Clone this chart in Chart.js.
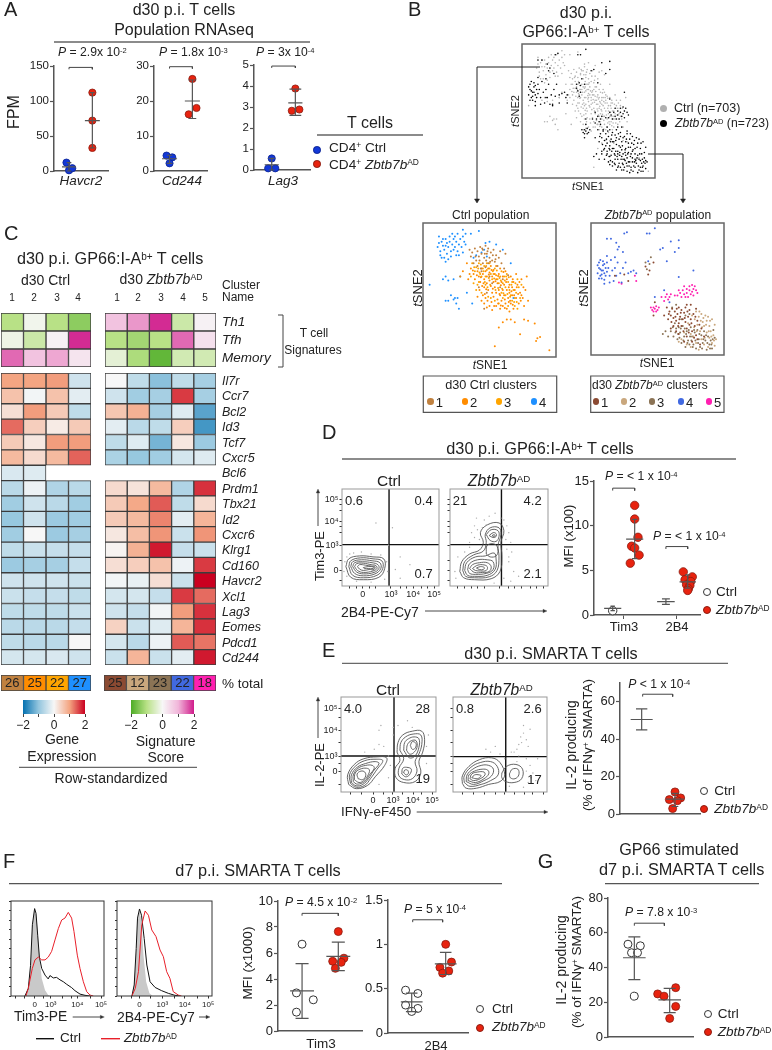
<!DOCTYPE html>
<html>
<head>
<meta charset="utf-8">
<title>Zbtb7b panels</title>
<script src="https://cdn.jsdelivr.net/npm/chart.js@4/dist/chart.umd.min.js"></script>
<style>
html,body{margin:0;background:#fff}
#page{position:relative;width:772px;height:1050px;overflow:hidden;font-family:"Liberation Sans",Arial,sans-serif;color:#222}
canvas{position:absolute}
.t{position:absolute;white-space:nowrap;line-height:1}
.t sup{font-size:.62em;line-height:0;vertical-align:baseline;position:relative;top:-.42em}
.d{position:absolute;border-radius:50%;box-sizing:border-box}
svg{position:absolute;left:0;top:0}
</style>
</head>
<body>
<div id="page"></div>
<script>
// panel A
const havcr2Ctrl = [12, 1, 4], havcr2CtrlJit = [-.11, 0, .14], havcr2Ko = [112, 72, 33];
const cd244Ctrl = [4.4, 3.9, 2.2], cd244CtrlJit = [-.13, .12, 0], cd244Ko = [26.3, 18, 16.2], cd244KoJit = [0, .18, -.16];
const lag3Ctrl = [.55, .08, .08], lag3CtrlJit = [0, -.15, .15], lag3Ko = [3.88, 2.82, 2.88], lag3KoJit = [0, -.15, .17];

// panel B tSNE cells, flat x,y lists
const ctrlC1 = [37,78,39,81,41,79,43,82,45,80,47,83,49,81,51,78,53,80,55,76,57,74,42,75,44,77,46,74,48,77,50,74,52,72,54,71,40,72,38,70,41,68,45,70,47,67,49,70,56,68,59,70,61,66,44,64,50,60,52,55,58,52,48,48,46,36,42,52,60,58,64,61,36,75,35,80,58,79,62,77,39.5,75,42.5,72,44.5,81,46.5,77,48.5,79,50.5,71,52.5,76,54.5,73,43.5,66,47.5,72];
const ctrlC2 = [36,66,38,62,39,58,41,64,42,60,43,56,44,66,45,62,46,58,46,52,47,64,48,60,48,55,49,66,49,50,50,63,50,57,51,68,51,53,52,60,52,48,53,65,53,56,53,45,54,62,54,52,55,58,55,68,55,48,56,55,56,43,57,62,57,50,58,66,58,46,59,56,59,42,60,60,60,50,61,46,61,54,62,64,62,40,63,58,63,50,64,44,65,54,65,48,66,60,66,40,67,52,67,46,68,56,68,36,69,50,70,44,70,62,71,54,72,40,73,48,74,58,75,44,76,38,77,50,78,60,35,62,33,70,34,58,30,64,28,60,41,45,44,42,46,40,47,44,50,38,52,35,48,37,45,46,55,38,58,36,60,38,63,36,65,34,74,46,79,42,57,22,60,26,63,28,66,28,69,26,76,28,79,27,84,25,73,17,86,14,88,15,85,12,54,8,95,5,37.5,64.5,40.5,61,43.5,59.5,45.5,55,47.5,50.5,49.5,61.5,51.5,65,52.5,51,54.5,56.5,56.5,60.5,57.5,47,58.5,53.5,60.5,63.5,61.5,43,62.5,56,64.5,52,65.5,42,66.5,49,67.5,58,68.5,46,70.5,52,71.5,47,72.5,56,73.5,42,75.5,52,42.5,50,44.5,53,46.5,47,48.5,42,51.5,41,53.5,38,56.5,40,58.5,38.5,61.5,36.5,64.5,41,67.5,39];
const ctrlC3 = [37,70,40,67,42,70,43,62,45,66,47,60,48,65,50,70,50,66,51,62,52,58,53,62,54,66,55,61,56,58,57,55,58,60,59,64,59,48,60,55,61,60,62,52,63,62,64,56,65,50,66,46,67,56,68,50,69,44,70,48,71,58,72,52,73,44,74,54,38,55,40,50,42,56,44,48,47,54,49,45,51,44,54,42,57,40,60,44,62,46,64,38,67,42,69,38,71,36,44,60,46,68,48,70,39,64,41,54,36,60,41.5,66,43.5,69,45.5,64,47.5,68,49.5,59,50.5,54,52.5,64,53.5,58.5,54.5,50,55.5,64.5,56.5,51.5,57.5,59,58.5,57,59.5,51,60.5,47.5,61.5,57,62.5,60,63.5,47,64.5,59.5,65.5,45,66.5,54,68.5,41,69.5,55,70.5,41,38.5,67,42.5,63,46.5,56,48.5,52];
const ctrlC4 = [11,82,12,85,13,79,14,86,15,83,13,76,16,80,17,88,18,85,16,74,18,77,19,82,20,90,20,86,21,79,22,84,23,88,19,73,21,75,24,82,24,90,25,86,26,92,26,79,27,84,28,88,29,82,30,90,31,86,15,88,17,83,22,92,23,80,25,76,14,74,17,71,27,76,30,78,32,84,32,92,36,92,42,94,30,95,12,90,19,57,15,58,17,60,23,58,28,60,5,54,21,46,24,44,26,44,23,43,19,42,17,42,25,40,37,40,33,48,27,36,38,74,40,76,44,78,46,80,47,85,50,86,55,84,60,80,66,70,48,75,68,44];
const koC1 = [57,36,59,33,60,30,61,35,62,28,63,33,64,26,65,31,66,36,66,24,67,29,68,34,68,22,69,27,70,32,71,25,71,36,72,20,73,29,74,23,74,34,75,27,76,18,77,31,78,22,79,15,80,26,80,12,62,22,64,18,58,27,55,30,60,20,72,14,76,10,83,20,85,14,82,8,66,16,70,10,48,40,47,30,72,38,75,38,79,35,18,60,25,61,28,56,43,61,44,64,47,70,41,67,58.5,31,60.5,25,63.5,29,65.5,22,67.5,32,69.5,18,70.5,28,72.5,33,73.5,17,75.5,24,77.5,13,78.5,29,81.5,23,64.5,35,66.5,27];
const koC2 = [76,30,78,27,79,33,80,23,81,29,82,18,83,31,84,25,85,22,86,30,87,17,87,26,88,29,89,13,89,22,90,18,91,27,91,9,92,15,93,23,94,12,77,14,79,9,83,12,85,8,75,16,73,24,70,17,68,12,72,8,81,4,88,6,93,7,66,10,75,6,77.5,21,79.5,18,81.5,33,83.5,21,84.5,28,86.5,23,88.5,18,89.5,26,90.5,14,92.5,11,82.5,26,85.5,13];
const koC3 = [60,18,62,14,64,20,65,12,67,17,68,9,69,22,70,14,71,6,72,18,73,11,74,8,75,21,76,14,77,8,78,17,79,5,80,19,81,12,82,6,83,15,84,9,85,18,86,11,87,4,88,14,89,8,90,11,91,5,92,19,93,13,63,24,66,21,58,14,56,18,54,16,68,27,71,30,74,31,61,36,64,38,41,70,42,65,45,74,44,69,61.5,21,63.5,17,65.5,16,66.5,13,67.5,20,69.5,11,70.5,20,71.5,16,72.5,9,73.5,19,74.5,14,75.5,11,76.5,6,77.5,19,78.5,11,80.5,9,81.5,16,83.5,5,84.5,12,86.5,15,87.5,9,89.5,5,90.5,8,91.5,12];
const koC4 = [5,62,6,66,7,60,6,70,8,64,9,68,8,58,10,62,9,71,11,66,10,57,12,63,7,65,5,68,8,61,11,60,12,70,13,66,6,58,9,64,10,69,7,72,14,60,16,64,18,66,19,60,22,62,24,66,26,70,15,72,12,75,20,70,18,74,14,55,17,56,10,54,23,55,28,62,30,63,32,64,34,62,20,80,24,78,19,85,21,82,12,88,15,88,25,92,27,93,42,92,48,96,44,92,60,86,66,87,66,81,54,81,52,80,63,78,57,71,43,71,77,64,66,59,55,49,48,44,59,40];
const koC5 = [65,45,67,47,68,44,69,49,70,46,71,44,72,50,72,47,73,44,74,52,74,49,75,46,76,48,76,53,77,50,77,45,78,52,79,49,80,47,66,49,70,52,63,45,60,46,58,42,56,44,55,41,53,44,57,46,59,44,47,36,46,34,48,35,49,37,50,34,45,36,47,33,51,36,49,33,21,55,34,56,23,54,33,60];
const ctrlClusterColors = ['#c0813f', '#ff8c00', '#ffa500', '#1e90ff'];
const koClusterColors = ['#8b4a32', '#c9a77d', '#8b7355', '#4169e1', '#ff1fb0'];

// panel C heatmaps
const sigNames = ['Th1', 'Tfh', 'Memory'];
const sigCtrl = [[-1, -.1, -1, -1.4], [-.15, -.7, .1, 1.9], [1.5, .8, 1.1, .3]];
const sigKo = [[.8, 1.2, 1.9, -.7, .1], [-1, -1.2, -1, 1.5, .35], [-.3, -1.1, -1.8, -.6, -.6]];
const geneNames = ['Il7r', 'Ccr7', 'Bcl2', 'Id3', 'Tcf7', 'Cxcr5', 'Bcl6', 'Prdm1', 'Tbx21', 'Id2', 'Cxcr6', 'Klrg1', 'Cd160', 'Havcr2', 'Xcl1', 'Lag3', 'Eomes', 'Pdcd1', 'Cd244'];
const geneCtrl = [[1, 1, 1.05, -.4], [.65, -.05, .65, -.2], [.3, 1.05, .55, -.55], [1.35, .5, .15, .55], [.55, .2, 1.05, 1.05], [.75, .35, .75, 1.4], [-.3, -.25, null, null], [-.6, -.1, -.7, -.6], [-.85, -.4, -.6, -.85], [-.95, -.4, -.9, -.85], [-.85, 0, -.9, -.8], [-.55, -.45, -.5, -.5], [-.9, -.8, -.8, -.5], [-.4, -.4, -.4, -.45], [-.45, -.5, -.5, -.55], [-.55, -.55, -.55, -.45], [-.6, -.6, -.6, -.5], [-.55, -.6, -.6, 0], [-.35, -.35, -.3, -.4]];
const geneKo = [[0, -.55, -1.05, -.55, -.8], [-.4, -.85, -.8, 1.65, -.8], [.6, .85, -.8, -.25, -1.4], [-.2, -.6, -.55, .5, -1.55], [-.55, -.25, -1.2, .2, -.9], [-.75, -.95, -.85, -.35, -.25], [null, null, null, null, null], [.35, .25, .75, -.7, 1.7], [.55, .95, 1.45, -.55, .35], [.55, .75, 1.2, -.2, .8], [.2, .7, 1.1, -.45, 1.1], [.05, .85, 1.85, -.5, -.45], [.3, .5, .65, -.1, 1.65], [-.05, -.15, .3, -.45, 2], [-.35, -.35, -.5, 1.65, 1.35], [-.4, -.5, -.05, 1.05, 1.7], [.45, -.45, -.25, .8, 1.7], [-.35, -.6, -.1, 1.45, 1.3], [-.45, .8, -.45, -.2, 1.85]];
const pctCtrl = [26, 25, 22, 27];
const pctKo = [25, 12, 23, 22, 18];
const exprStops = ['#0571b0', '#92c5de', '#f7f7f7', '#f4a582', '#ca0020'];
const sigStops = ['#4dac26', '#b8e186', '#f7f7f7', '#f1b6da', '#d01c8b'];

// panel D
const tim3CtrlD = [.48], tim3KoD = [12.27, 10.74, 8.7, 7.7, 7.5, 6.7, 5.8], tim3KoDJit = [0, 0, .15, -.14, 0, .2, -.2];
const b4KoD = [4.83, 3.94, 4.27, 3.75, 3.38, 3.3, 2.94, 2.75], b4KoDJit = [-.2, -.12, .21, .14, -.05, .1, .03, 0];
const flowDCtrlLoops = [
  [4,20,7,28,18,31,32,30,43,28,44,18,38,9,22,6.5,9,9,4,20],
  [7,20,9,26,19,29,32,28,41,26,42,18,36,11,22,8.5,11,11,7,20],
  [9,20,11,25,20,27,31,26,39,24,40,18,34,12.5,22,10.5,13,13,9,20],
  [11,20,13,24,21,25,31,24,37,22,38,18,33,14,22,12.5,15,14.5,11,20],
  [13,20,15,23,22,23.5,30,22,35,21,36,18,32,15.5,22,14,16,16,13,20],
  [16,20,18,22,24,21.5,30,20.5,34,20,33,17,28,17,22,16,18,17.5,16,20],
  [22,19,27,20,33,19.5,32,18,27,18,23,18,22,19]
];
const flowDKoLoops = [
  [10,15,12,25,20,33,30,37,34,45,31,55,38,63,50,65,55,57,52,45,53,30,51,15,42,7.5,25,6.5,14,8.5,10,15],
  [13,16,15,25,24,32,34,36,37,45,36,53,41,60,50,60,52,53,49,42,50,30,48,16,40,9.5,25,8.5,16,10,13,16],
  [37,53,42,58,49,57,50,51,47,46,41,47,37,53],
  [40,52,44,55,47,54,47,51,44,50,40,52],
  [43,52,45,53,46,52,45,51,43,52],
  [37,33,38,42,46,43,49,37,47,31,41,30,37,33],
  [15,16,17,24,26,30,36,31,45,34,47,28,46,17,38,11,25,10,18,11,15,16],
  [18,17,20,23,28,27,38,27,44,25,44,17,37,13,26,12,20,13,18,17],
  [20,18,23,22,30,24,38,24,42,20,40,15,33,14,25,14,20,18],
  [23,18,27,21,33,22,38,20,37,16,31,15.5,26,16,23,18],
  [27,18.5,31,20,35,19,34,17,30,17,27,18.5]
];
const flowDCtrlSpeckle = [3,25,5,30,8,33,12,34,20,35,30,33,40,32,46,25,47,15,44,7,30,4,15,5,5,10,2,15,60,30,52,60,48,42,70,22,60,8,55,17,35,65];
const flowDKoSpeckle = [20,45,25,62,27,70,22,55,35,68,40,72,46,75,55,68,58,62,60,55,62,45,58,38,60,25,65,15,70,10,62,5,20,40,15,35,8,30,30,48,25,50,28,58,33,60,37,63,52,70,57,48,5,15,6,8,45,3,55,8,60,30,63,35];

// panel E
const il2Ko = [11.8, 7.7, 8.6, 7.1, 2.9], il2KoJit = [0, -.17, .17, .07, -.07];
const flowECtrlLoops = [
  [8,8,7,18,14,29,24,35,38,37,48,36,46,28,36,16,28,7,16,3.5,8,8],
  [10,9,9,18,15,27,25,33,37,34.5,44,33,38,24,31,14,25,7,16,5,10,9],
  [11,10,11,18,17,26,26,30,36,32,40,30,34,22,29,14,23,8,16,6.5,11,10],
  [13,11,13,18,18,25,26,28,33,28,35,25,30,18,26,12,21,9,16,8.5,13,11],
  [14,13,15,20,20,24,27,25,30,23,28,17,24,12,19,10,14,13],
  [18,14,17,19,21,22,25,21,26,17,23,13,18,14],
  [59,42,60,52,65,60,75,64,85,64,88,55,86,42,82,32,84,20,78,11,66,10,58,15,57,25,62,33,59,42],
  [62,44,63,52,68,58,76,61,84,60,85,50,82,40,78,32,80,22,75,14,67,13,61,17,61,25,66,35,62,44],
  [66,44,67,52,71,56,77,58,82,56,82,47,78,38,72,36,66,44],
  [69,44,70,50,74,54,79,54,80,47,76,41,72,40,69,44],
  [73,49,75,53,79,51,78,46,75,45,73,49],
  [64,19,65,25,69,26,74,24,72,18,68,16,64,19],
  [66,20,67,23,70,23,71,20,69,18,66,20]
];
const flowEKoLoops = [
  [10,9,10,17,17,27,28,34,41,36,50,31,55,18,50,11,38,8,25,4,14,4,10,9],
  [12,10,12,17,19,26,29,31,40,32,47,27,48,18,40,12,30,8,18,6,12,10],
  [14,11,15,18,21,24,30,28,38,28,43,24,41,17,33,12,22,8,14,11],
  [16,12,17,18,23,22,31,24,37,23,38,19,33,14,24,10,16,12],
  [18,14,20,19,26,21,33,21,34,18,29,14,22,12,18,14],
  [20,15,23,18,28,18,30,17,26,14,20,15],
  [52,20,57,27,67,29,74,24,73,14,65,10,56,11,52,15,52,20],
  [60,19,63,24,69,24,70,18,66,14,61,15,60,19]
];
const flowECtrlSpeckle = [25,42,35,45,40,50,45,48,55,60,50,38,52,28,50,15,40,8,90,30,90,48,92,60,55,68,60,70,70,75,75,68,40,65,42,70];
const flowEKoSpeckle = [70,50,75,62,78,55,80,48,72,58,82,66,75,70,65,42,70,38,78,35,82,28,85,20,88,12,80,10,75,5,60,6,90,35,40,42,45,48,35,45,50,40,55,35,62,42,68,32,78,22,83,15,73,52,68,45];

// panel F histograms, x then count
const histTim3Gray = [15,0,18.6,8,21,32,23,75,25.4,92,27.6,82,30.5,43,33,18.6,36.6,6,40,1,42,0];
const histTim3Black = [15,0,18.6,8,21,32,23,75,25.4,92,26.9,87,28.7,64,30.5,41,33,29,36.6,22,40,18,41.9,21.5,45.5,19,49,19.6,52.7,17,56.3,15,59.9,12.3,65.2,8.8,68.8,5.6,74.2,2,79.6,.7,85,0];
const histTim3Red = [16,0,18.6,8,20.4,17,22.9,29,25.8,38,29.4,41,33,38,36.6,38,40.1,41,43.7,47,47.3,59,50.9,71,54.5,80,58,82,61.6,88,65.2,82,67.7,68,71.3,43,74.2,29,77.8,15,81.4,4.6,84.9,1,88.5,0];
const hist2b4Gray = [15.7,0,18.1,11.6,20.2,46.7,21.6,78,23.7,90.5,25.8,78,27.9,43,30.7,15,34.1,2.8,37.6,0];
const hist2b4Black = [15.7,0,18.1,11.6,20.2,50,21.6,82,23.7,91.6,25.8,85,28.6,60.7,31.4,32.6,34.8,15,40.1,9,47,5.6,54,2.8,61,.7,66.2,0];
const hist2b4Red = [15.7,0,19.2,8,22.6,25.6,26.1,75,29.6,89.5,33.1,85,36.6,69.5,41.1,62.5,45.3,48.4,48.8,41.4,52.3,25.6,55.7,18.6,59.2,4.6,64.5,1,67.9,0];
const mfiTim3Ctrl = [6.68, 2.93, 2.4, 1.45], mfiTim3CtrlJit = [0, -.155, .31, -.155];
const mfiTim3Ko = [7.65, 5.6, 5.28, 5.36, 4.82], mfiTim3KoJit = [0, .155, .08, -.155, -.08];
const mfi2b4Ctrl = [.483, .446, .315, .277, .243], mfi2b4CtrlJit = [-.18, .18, -.18, .18, 0];
const mfi2b4Ko = [1, .8, .74, .7, .675], mfi2b4KoJit = [0, .17, -.17, .09, -.09];

// panel G
const gpCtrl = [53.4, 52.5, 48.5, 48.5, 23.5], gpCtrlJit = [-.18, .17, -.08, .09, 0];
const gpKo = [28.4, 24.8, 23.5, 17.6, 10.7], gpKoJit = [.17, -.34, -.16, .17, 0];

const FONT = '"Liberation Sans", Arial, sans-serif';
const RED = '#e8230f', REDLINE = '#8a1c10', BLUE = '#1238d8';
Chart.defaults.font.family = FONT;
Chart.defaults.color = '#222';
Chart.defaults.animation = false;
Chart.defaults.responsive = false;
Chart.defaults.plugins.legend.display = false;
Chart.defaults.plugins.tooltip.enabled = false;

const page = document.getElementById('page');

const frame = {
  id: 'frame',
  afterDatasetsDraw(chart, args, o) {
    const a = chart.chartArea, c = chart.ctx;
    c.save();
    c.strokeStyle = o.color || '#666';
    c.lineWidth = o.width || 1.5;
    c.strokeRect(a.left, a.top, a.right - a.left, a.bottom - a.top);
    c.restore();
  }
};
const barText = {
  id: 'barText',
  afterDatasetsDraw(chart) {
    const c = chart.ctx;
    c.save();
    c.font = '13px ' + FONT;
    c.fillStyle = '#222';
    c.textAlign = 'center';
    c.textBaseline = 'middle';
    chart.data.datasets.forEach((d, i) => {
      const el = chart.getDatasetMeta(i).data[0];
      c.fillText(d.label, (el.base + el.x) / 2, el.y + .5);
    });
    c.restore();
  }
};

// canvas is bigger than the plot by fixed margins, the plot itself lands exactly on the rect
function mount(x0, y0, x1, y1, cfg) {
  const m = {l: 36, t: 14, r: 18, b: 24};
  const cv = document.createElement('canvas');
  cv.width = x1 - x0 + m.l + m.r;
  cv.height = y1 - y0 + m.t + m.b;
  cv.style.left = (x0 - m.l) + 'px';
  cv.style.top = (y0 - m.t) + 'px';
  page.appendChild(cv);
  cfg.options = cfg.options || {};
  cfg.options.layout = {padding: {top: m.t, right: m.r, left: 0, bottom: 0}};
  cfg.options.scales.x.afterFit = s => { s.height = m.b; };
  cfg.options.scales.y.afterFit = s => { s.width = m.l; };
  return new Chart(cv, cfg);
}

const pairs = f => {
  const out = [];
  for (let i = 0; i < f.length; i += 2) out.push({x: f[i], y: f[i + 1]});
  return out;
};
const silent = (min, max) => ({type: 'linear', min, max, ticks: {display: false}, grid: {display: false}, border: {display: false}});
const fixedTicks = (vals, labels) => ({
  ax: s => { s.ticks = vals.map(v => ({value: v})); },
  cb: (v, i) => labels[i]
});

// dot plots of panels A, D, E, F, G
function errPath(c, mean, lo, hi, meanHalf, capHalf) {
  const gap = {x: null, y: null};
  return [{x: c - meanHalf, y: mean}, {x: c + meanHalf, y: mean}, gap,
    {x: c, y: lo}, {x: c, y: hi}, gap,
    {x: c - capHalf, y: lo}, {x: c + capHalf, y: lo}, gap,
    {x: c - capHalf, y: hi}, {x: c + capHalf, y: hi}];
}
function dotPlot(r, o) {
  const sets = [];
  o.groups.forEach(g => {
    sets.push({data: errPath(g.c, g.mean, g.lo, g.hi, g.mh, g.ch), showLine: true, spanGaps: false, pointRadius: 0,
      borderColor: '#555', borderWidth: 1.2, clip: false});
  });
  o.brackets.forEach(b => {
    const h = o.yMax * .018;
    sets.push({data: [{x: b[0], y: b[2] - h}, {x: b[0], y: b[2]}, {x: b[1], y: b[2]}, {x: b[1], y: b[2] - h}],
      showLine: true, pointRadius: 0, borderColor: '#444', borderWidth: 1, clip: false});
  });
  o.groups.forEach(g => {
    if (!g.ys) return;
    sets.push({data: g.ys.map((y, i) => ({x: g.c + (g.jit ? g.jit[i] : 0), y})), showLine: false, clip: false,
      pointRadius: o.radius || 3.6, pointBackgroundColor: g.fill,
      pointBorderColor: g.stroke, pointBorderWidth: g.fill === '#fff' ? 1 : .8});
  });
  const xt = o.xTicks;
  mount(r[0], r[1], r[2], r[3], {
    type: 'scatter',
    data: {datasets: sets},
    options: {
      scales: {
        x: {type: 'linear', min: o.xMin, max: o.xMax, ticks: {display: !!xt, callback: () => ''},
          afterBuildTicks: s => { s.ticks = (xt || []).map(v => ({value: v})); },
          grid: xt ? {drawOnChartArea: false, tickLength: 4, color: '#555'} : {display: false}, border: {color: '#555', width: 1.5}},
        y: {type: 'linear', min: 0, max: o.yMax, afterBuildTicks: s => { s.ticks = o.yTicks.map(v => ({value: v})); },
          ticks: {font: {size: o.tickSize || 12}, padding: 1, autoSkip: false, callback: v => String(v)},
          grid: {drawOnChartArea: false, tickLength: 4, color: '#555', tickWidth: 1.2}, border: {color: '#555', width: 1.5}}
      }
    }
  });
}

// A
dotPlot([54, 65.7, 108, 171], {xMin: .357, xMax: 2.67, yMax: 150, yTicks: [0, 50, 100, 150], tickSize: 11.5,
  brackets: [[1, 2, 148]],
  groups: [
    {c: 1, mean: 6, lo: 0, hi: 12, mh: .3, ch: .1, ys: havcr2Ctrl, jit: havcr2CtrlJit, fill: BLUE, stroke: '#0b2392'},
    {c: 2, mean: 72, lo: 33, hi: 112, mh: .32, ch: .1, ys: havcr2Ko, fill: RED, stroke: REDLINE}
  ]});
dotPlot([154, 65.7, 207, 170.7], {xMin: .32, xMax: 2.64, yMax: 30, yTicks: [0, 10, 20, 30], tickSize: 11.5,
  brackets: [[1, 2, 29.8]],
  groups: [
    {c: 1, mean: 3.5, lo: 2.2, hi: 4.5, mh: .33, ch: .12, ys: cd244Ctrl, jit: cd244CtrlJit, fill: BLUE, stroke: '#0b2392'},
    {c: 2, mean: 20, lo: 15, hi: 26, mh: .33, ch: .17, ys: cd244Ko, jit: cd244KoJit, fill: RED, stroke: REDLINE}
  ]});
dotPlot([254, 64.7, 310, 170], {xMin: .25, xMax: 2.62, yMax: 5, yTicks: [0, 1, 2, 3, 4, 5], tickSize: 11.5,
  brackets: [[1, 2, 4.95]],
  groups: [
    {c: 1, mean: .25, lo: 0, hi: .55, mh: .3, ch: .12, ys: lag3Ctrl, jit: lag3CtrlJit, fill: BLUE, stroke: '#0b2392'},
    {c: 2, mean: 3.2, lo: 2.6, hi: 3.85, mh: .3, ch: .25, ys: lag3Ko, jit: lag3KoJit, fill: RED, stroke: REDLINE}
  ]});

// B
function tsne(r, lists, colors, radius) {
  mount(r[0], r[1], r[2], r[3], {
    type: 'scatter',
    data: {datasets: lists.map((l, i) => ({data: pairs(l), pointRadius: radius, pointBorderWidth: 0, pointBackgroundColor: colors[i]}))},
    options: {scales: {x: silent(0, 100), y: silent(0, 100)}, plugins: {frame: {color: '#666', width: 1.5}}},
    plugins: [frame]
  });
}
tsne([521.7, 44, 655, 178], [koC1, koC2, koC3, koC4, koC5, ctrlC1, ctrlC2, ctrlC3, ctrlC4],
  ['#000', '#000', '#000', '#000', '#000', '#b4b4b4', '#b4b4b4', '#b4b4b4', '#b4b4b4'], .8);
tsne([423.3, 222.7, 557, 356.7], [ctrlC1, ctrlC2, ctrlC3, ctrlC4], ctrlClusterColors, 1);
tsne([590.7, 222.7, 724, 355.5], [koC1, koC2, koC3, koC4, koC5], koClusterColors, 1);

// C
function colorOf(v, stops) {
  const p = (Math.max(-2, Math.min(2, v)) + 2) / 4 * (stops.length - 1);
  const i = Math.min(Math.floor(p), stops.length - 2), f = p - i;
  const hex = s => [1, 3, 5].map(k => parseInt(s.substr(k, 2), 16));
  const a = hex(stops[i]), b = hex(stops[i + 1]);
  return 'rgb(' + a.map((n, k) => Math.round(n + (b[k] - n) * f)).join(',') + ')';
}
function heat(r, rows, names, stops) {
  const cols = rows[0].length;
  const sets = [];
  for (let c = 0; c < cols; c++) {
    sets.push({
      data: rows.map(row => row[c] === null ? null : 1),
      backgroundColor: rows.map(row => row[c] === null ? '#fff' : colorOf(row[c], stops)),
      borderColor: '#3c3c3c', borderWidth: 1, borderSkipped: false,
      barPercentage: 1, categoryPercentage: 1
    });
  }
  mount(r[0], r[1], r[2], r[3], {
    type: 'bar',
    data: {labels: names, datasets: sets},
    options: {indexAxis: 'y', scales: {
      x: {...silent(0, cols), stacked: true},
      y: {type: 'category', stacked: true, ticks: {display: false}, grid: {display: false}, border: {display: false}}
    }}
  });
}
heat([.7, 312.7, 90.7, 367.3], sigCtrl, sigNames, sigStops);
heat([105, 312.7, 216.7, 367.3], sigKo, sigNames, sigStops);
heat([.7, 373.3, 90.7, 666], geneCtrl, geneNames, exprStops);
heat([105, 373.3, 216.7, 666], geneKo, geneNames, exprStops);

function pctBar(r, vals, colors) {
  mount(r[0], r[1], r[2], r[3], {
    type: 'bar',
    data: {labels: ['total'], datasets: vals.map((v, i) => ({label: String(v), data: [1], backgroundColor: colors[i],
      borderColor: '#444', borderWidth: 1, borderSkipped: false, barPercentage: 1, categoryPercentage: 1}))},
    options: {indexAxis: 'y', scales: {
      x: {...silent(0, vals.length), stacked: true},
      y: {type: 'category', stacked: true, ticks: {display: false}, grid: {display: false}, border: {display: false}}
    }},
    plugins: [barText]
  });
}
pctBar([.7, 675, 90.7, 691], pctCtrl, ctrlClusterColors);
pctBar([103.5, 675, 216, 691], pctKo, koClusterColors);

function colorBar(r, stops) {
  const t = fixedTicks([-2, -1, 0, 1, 2], ['\u22122', '', '0', '', '2']);
  mount(r[0], r[1], r[2], r[3], {
    type: 'bar',
    data: {labels: ['scale'], datasets: [{data: [[-2, 2]], barPercentage: 1, categoryPercentage: 1, backgroundColor: c => {
      const a = c.chart.chartArea;
      if (!a) return stops[2];
      const g = c.chart.ctx.createLinearGradient(a.left, 0, a.right, 0);
      stops.forEach((s, i) => g.addColorStop(i / (stops.length - 1), s));
      return g;
    }}]},
    options: {indexAxis: 'y', scales: {
      x: {type: 'linear', min: -2, max: 2, afterBuildTicks: t.ax, ticks: {callback: t.cb, font: {size: 12}, padding: 1, maxRotation: 0, autoSkip: false},
        grid: {drawOnChartArea: false, tickLength: 3, color: '#444'}, border: {display: false}},
      y: {type: 'category', ticks: {display: false}, grid: {display: false}, border: {display: false}}
    }}
  });
}
colorBar([23.3, 700, 85.7, 714], exprStops);
colorBar([131.3, 700, 194.3, 714], sigStops);

// D, E flow contours
function flowPlot(r, o) {
  const sets = [{data: pairs(o.speckle), pointRadius: .7, pointBorderWidth: 0, pointBackgroundColor: '#aaa'}];
  o.loops.forEach(l => sets.push({data: pairs(l), showLine: true, pointRadius: 0, borderColor: '#555', borderWidth: .9, tension: .4}));
  sets.push({data: [{x: o.gate[0], y: 0}, {x: o.gate[0], y: 100}], showLine: true, pointRadius: 0, borderColor: '#111', borderWidth: 1.4});
  sets.push({data: [{x: 0, y: o.gate[1]}, {x: 100, y: o.gate[1]}], showLine: true, pointRadius: 0, borderColor: '#111', borderWidth: 1.4});
  const tx = fixedTicks(o.xt, o.xl), ty = fixedTicks(o.yt, o.yl);
  mount(r[0], r[1], r[2], r[3], {
    type: 'scatter',
    data: {datasets: sets},
    options: {
      scales: {
        x: {type: 'linear', min: 0, max: 100, afterBuildTicks: tx.ax, border: {display: false},
          ticks: {callback: tx.cb, font: {size: 9}, padding: 1, maxRotation: 0, autoSkip: false},
          grid: {drawOnChartArea: false, tickLength: 2.5, color: '#333'}},
        y: {type: 'linear', min: 0, max: 100, afterBuildTicks: ty.ax, border: {display: false},
          ticks: {callback: ty.cb, font: {size: 9}, padding: 1, autoSkip: false},
          grid: {drawOnChartArea: false, tickLength: 2.5, color: '#333'}}
      },
      plugins: {frame: {color: '#999', width: 1}}
    },
    plugins: [frame]
  });
}
const dXt = [8, 15, 21.5, 28, 35, 50.5, 60, 66, 73.4, 82, 88, 94.9];
const dYt = [6, 16, 26, 41.6, 55, 61, 66.6, 78, 84, 89.4];
const dXl = ['', '', '0', '', '', '10\u00b3', '', '', '10\u2074', '', '', '10\u2075'];
const dYl = ['', '0', '', '10\u00b3', '', '', '10\u2074', '', '', '10\u2075'];
const noX = dXl.map(() => ''), noY = dYl.map(() => '');
flowPlot([341.7, 489, 439.3, 586.7], {loops: flowDCtrlLoops, speckle: flowDCtrlSpeckle, gate: [48.5, 42.7], xt: dXt, xl: dXl, yt: dYt, yl: dYl});
flowPlot([450, 489, 548.3, 586.7], {loops: flowDKoLoops, speckle: flowDKoSpeckle, gate: [52.5, 42.7], xt: dXt, xl: noX, yt: dYt, yl: noY});
const eXt = [10, 22, 33.7, 45, 54.7, 65, 75.8, 85, 95.8];
const eYt = [8, 22, 30, 37.5, 52, 65, 78, 88.4];
const eXl = ['', '', '0', '', '10\u00b3', '', '10\u2074', '', '10\u2075'];
const eYl = ['', '0', '', '10\u00b3', '', '10\u2074', '', '10\u2075'];
flowPlot([340.7, 696.7, 435.7, 791.7], {loops: flowECtrlLoops, speckle: flowECtrlSpeckle, gate: [55.8, 37.9], xt: eXt, xl: eXl, yt: eYt, yl: eYl});
flowPlot([453.3, 696.7, 548.3, 791.7], {loops: flowEKoLoops, speckle: flowEKoSpeckle, gate: [56.1, 37.2], xt: eXt, xl: eXl.map(() => ''), yt: eYt, yl: eYl.map(() => '')});

// D, E dots
dotPlot([594, 480.7, 700, 615.3], {xMin: .15, xMax: 4.97, yMax: 15, yTicks: [0, 5, 10, 15], tickSize: 13, radius: 4.2, xTicks: [1.5, 3.92],
  brackets: [[1, 2, 14.2], [3.42, 4.41, 7.66]],
  groups: [
    {c: 1, mean: .75, lo: .5, hi: 1, mh: .39, ch: .1, ys: tim3CtrlD, fill: '#fff', stroke: '#333'},
    {c: 2, mean: 8.5, lo: 6.3, hi: 10.7, mh: .39, ch: .12, ys: tim3KoD, jit: tim3KoDJit, fill: RED, stroke: REDLINE},
    {c: 3.42, mean: 1.5, lo: 1.2, hi: 1.8, mh: .4, ch: .18},
    {c: 4.41, mean: 3.7, lo: 3, hi: 4.5, mh: .37, ch: .12, ys: b4KoD, jit: b4KoDJit, fill: RED, stroke: REDLINE}
  ]});
dotPlot([620, 683, 700, 814.3], {xMin: .35, xMax: 2.75, yMax: 70, yTicks: [0, 20, 40, 60], tickSize: 13, radius: 4,
  brackets: [[1.03, 1.93, 64]],
  groups: [
    {c: 1, mean: 50.5, lo: 45, hi: 56.2, mh: .33, ch: .17},
    {c: 2, mean: 8, lo: 4, hi: 11, mh: .27, ch: .1, ys: il2Ko, jit: il2KoJit, fill: RED, stroke: REDLINE}
  ]});

// F
function hist(r, gray, black, red, xt, xl) {
  const t = fixedTicks(xt, xl);
  const yt = [0, 10, 20, 30, 40, 50, 60, 70, 80, 90, 100];
  mount(r[0], r[1], r[2], r[3], {
    type: 'line',
    data: {datasets: [
      {data: pairs(red), borderColor: '#e8202a', borderWidth: 1, pointRadius: 0, tension: 0},
      {data: pairs(black), borderColor: '#111', borderWidth: 1, pointRadius: 0, tension: 0},
      {data: pairs(gray), borderColor: 'rgba(0,0,0,0)', backgroundColor: '#c9c9c9', fill: 'origin', pointRadius: 0, tension: 0}
    ]},
    options: {
      scales: {
        x: {type: 'linear', min: 0, max: 100, afterBuildTicks: t.ax, border: {display: false},
          ticks: {callback: t.cb, font: {size: 8}, padding: 1, maxRotation: 0, autoSkip: false},
          grid: {drawOnChartArea: false, tickLength: 2.5, color: '#333'}},
        y: {type: 'linear', min: 0, max: 100, afterBuildTicks: s => { s.ticks = yt.map(v => ({value: v})); }, border: {display: false},
          ticks: {callback: () => '', padding: 0, autoSkip: false},
          grid: {drawOnChartArea: false, tickLength: 2, color: '#333'}}
      },
      plugins: {frame: {color: '#333', width: 1}}
    },
    plugins: [frame]
  });
}
hist([11, 901, 104, 996], histTim3Gray, histTim3Black, histTim3Red,
  [5, 15, 25.4, 35, 42.7, 55, 65, 71.3, 85, 96.8], ['', '', '0', '', '10\u00b3', '', '', '10\u2074', '', '10\u2075']);
hist([116.7, 901, 212.3, 996], hist2b4Gray, hist2b4Black, hist2b4Red,
  [5, 15, 23.7, 35, 47.7, 60, 71.4, 85, 96], ['', '', '0', '', '10\u00b3', '', '10\u2074', '', '10\u2075']);
dotPlot([278.3, 901, 363, 1031.7], {xMin: .336, xMax: 2.654, yMax: 10, yTicks: [0, 2, 4, 6, 8, 10], tickSize: 13, radius: 4,
  brackets: [[1, 2, 9.05]],
  groups: [
    {c: 1, mean: 3.09, lo: .97, hi: 5.18, mh: .33, ch: .18, ys: mfiTim3Ctrl, jit: mfiTim3CtrlJit, fill: '#fff', stroke: '#333'},
    {c: 2, mean: 5.74, lo: 4.64, hi: 6.84, mh: .33, ch: .18, ys: mfiTim3Ko, jit: mfiTim3KoJit, fill: RED, stroke: REDLINE}
  ]});
dotPlot([388.3, 900.3, 468.3, 1033.3], {xMin: .303, xMax: 2.656, yMax: 1.5, yTicks: [0, .5, 1, 1.5], tickSize: 13, radius: 4,
  brackets: [[1.03, 1.91, 1.277]],
  groups: [
    {c: 1, mean: .352, lo: .24, hi: .45, mh: .32, ch: .17, ys: mfi2b4Ctrl, jit: mfi2b4CtrlJit, fill: '#fff', stroke: '#333'},
    {c: 2, mean: .78, lo: .66, hi: .91, mh: .32, ch: .17, ys: mfi2b4Ko, jit: mfi2b4KoJit, fill: RED, stroke: REDLINE}
  ]});

// G
dotPlot([608.3, 897.7, 693.3, 1037.3], {xMin: .255, xMax: 2.66, yMax: 80, yTicks: [0, 20, 40, 60, 80], tickSize: 13, radius: 4,
  brackets: [[1, 1.85, 65.5]],
  groups: [
    {c: 1, mean: 45.6, lo: 33, hi: 57.6, mh: .32, ch: .17, ys: gpCtrl, jit: gpCtrlJit, fill: '#fff', stroke: '#333'},
    {c: 2, mean: 21.4, lo: 14, hi: 28, mh: .32, ch: .17, ys: gpKo, jit: gpKoJit, fill: RED, stroke: REDLINE}
  ]});

// rules, connectors, arrows
const NS = 'http://www.w3.org/2000/svg';
const svg = document.createElementNS(NS, 'svg');
svg.setAttribute('width', 772);
svg.setAttribute('height', 1050);
page.appendChild(svg);
function path(d, color, w, fill) {
  const p = document.createElementNS(NS, 'path');
  p.setAttribute('d', d);
  p.setAttribute('stroke', color);
  p.setAttribute('stroke-width', w);
  p.setAttribute('fill', fill || 'none');
  svg.appendChild(p);
}
path('M54 42H310M317 135H423', '#666', 1.3);
path('M342 459H736', '#666', 1.3);
path('M342 663.3H728', '#444', 1);
path('M9 883.7H502M605 883.7H759', '#555', 1.2);
path('M19 767.3H197', '#444', 1);
path('M540 67H477V199M648 154H683V199', '#222', 1);
path('M474.5 199H479.5L477 203ZM680.5 199H685.5L683 203Z', '#222', .5, '#222');
path('M278 315H283V367H278', '#444', 1);
path('M423.3 376H556.7V412.3H423.3ZM590.7 376H724V412.3H590.7Z', '#555', 1.2);
function arrowR(x0, x1, y) { path('M' + x0 + ' ' + y + 'H' + (x1 - 3), '#333', .9); path('M' + (x1 - 4) + ' ' + (y - 1.8) + 'V' + (y + 1.8) + 'L' + x1 + ' ' + y + 'Z', '#333', .3, '#333'); }
function arrowU(x, y0, y1) { path('M' + x + ' ' + y0 + 'V' + (y1 + 3), '#333', .9); path('M' + (x - 1.8) + ' ' + (y1 + 4) + 'H' + (x + 1.8) + 'L' + x + ' ' + y1 + 'Z', '#333', .3, '#333'); }
arrowR(425, 547, 611);
arrowR(416.7, 548, 812);
arrowR(72.7, 104.3, 1017);
arrowR(199, 210, 1017);
arrowU(318, 526, 489);
arrowU(318, 738, 697);
path('M36 1038.7H54', '#111', 1.4);
path('M101 1038.7H120', '#e8202a', 1.4);

// text
function t(x, y, html, size, o) {
  o = o || {};
  const d = document.createElement('div');
  d.className = 't';
  d.innerHTML = html;
  d.style.fontSize = size + 'px';
  d.style.left = x + 'px';
  d.style.top = y + 'px';
  const ax = o.a === 'c' ? '-50%' : o.a === 'r' ? '-100%' : '0';
  d.style.transform = 'translate(' + ax + ',-50%)' + (o.rot ? ' rotate(-90deg)' : '');
  if (o.rot) d.style.transformOrigin = '50% 50%';
  if (o.color) d.style.color = o.color;
  page.appendChild(d);
}
function dot(x, y, r, fill, stroke) {
  const d = document.createElement('div');
  d.className = 'd';
  d.style.cssText = 'left:' + (x - r) + 'px;top:' + (y - r) + 'px;width:' + 2 * r + 'px;height:' + 2 * r + 'px;background:' + fill + ';border:' + (stroke ? '1px solid ' + stroke : '0');
  page.appendChild(d);
}
const KO = '<i>Zbtb7b</i><sup>AD</sup>';
const GP = 'GP66:I-A<sup>b+</sup> T cells';
const C = {a: 'c'}, R = {a: 'r'}, V = {a: 'c', rot: 1};
const pv = (s, e) => '<i>P</i> ' + s + ' 10<sup>' + e + '</sup>';

// A
t(4, 9, 'A', 20);
t(184, 10, 'd30 p.i. T cells', 16, C);
t(184, 30, 'Population RNAseq', 16, C);
t(58, 52, pv('= 2.9x', '-2'), 12.2);
t(159, 52, pv('= 1.8x', '-3'), 12.2);
t(256, 52, pv('= 3x', '-4'), 12.2);
t(14, 112, 'FPM', 16, V);
t(81, 181, '<i>Havcr2</i>', 13.5, C);
t(182, 181, '<i>Cd244</i>', 13.5, C);
t(283, 181, '<i>Lag3</i>', 13.5, C);
t(370, 123, 'T cells', 16, C);
dot(317, 150, 3.8, BLUE, '#0b2392');
dot(317, 164, 3.8, RED, REDLINE);
t(329, 147.5, 'CD4<sup>+</sup> Ctrl', 13.6);
t(329, 165, 'CD4<sup>+</sup> ' + KO, 13.6);

// B
t(408, 9, 'B', 20);
t(586, 13, 'd30 p.i.', 16, C);
t(586, 32, GP, 16, C);
t(515, 111, '<i>t</i>SNE2', 11, V);
t(588, 186, '<i>t</i>SNE1', 11, C);
dot(663, 108, 3.5, '#b0b0b0');
dot(663, 123, 3.5, '#000');
t(674, 108, 'Ctrl (n=703)', 12.5);
t(675, 123, KO + ' (n=723)', 12.2);
t(490.7, 215, 'Ctrl population', 12, C);
t(658, 214.5, KO + ' population', 12, C);
t(416.7, 288, '<i>t</i>SNE2', 13, V);
t(583, 288, '<i>t</i>SNE2', 13, V);
t(490, 365, '<i>t</i>SNE1', 12, C);
t(657, 363, '<i>t</i>SNE1', 12, C);
t(491, 385, 'd30 Ctrl clusters', 12.7, C);
t(592, 385, 'd30 ' + KO + ' clusters', 12);
[430.7, 465, 499, 534].forEach((x, i) => { dot(x, 401.7, 3.3, ctrlClusterColors[i]); t(x + 5, 401.7, String(i + 1), 13); });
[596, 624, 652, 681, 709].forEach((x, i) => { dot(x, 401.7, 3.3, koClusterColors[i]); t(x + 5, 401.7, String(i + 1), 13); });

// C
t(4, 233, 'C', 20);
t(17, 258, 'd30 p.i. ' + GP, 16.2);
t(45.5, 280, 'd30 Ctrl', 14, C);
t(161, 279, 'd30 ' + KO, 14, C);
[12, 34, 57, 78].forEach((x, i) => t(x, 298.3, String(i + 1), 10, C));
[117, 138, 161, 183, 205].forEach((x, i) => t(x, 298.3, String(i + 1), 10, C));
t(222, 285, 'Cluster', 12);
t(222, 297, 'Name', 12);
sigNames.forEach((n, i) => t(222, 321.8 + i * 18.2, '<i>' + n + '</i>', 13.5));
geneNames.forEach((n, i) => t(222, 381 + i * 15.4, '<i>' + n + '</i>', 12.5));
t(314, 333, 'T cell', 12, C);
t(313, 350, 'Signatures', 12, C);
t(222, 684, '% total', 13.5);
t(62, 739, 'Gene', 14, C);
t(62, 756, 'Expression', 14, C);
t(165.7, 740.7, 'Signature', 14, C);
t(165.7, 757, 'Score', 14, C);
t(111, 778, 'Row-standardized', 14, C);

// D
t(322, 432, 'D', 20);
t(540, 448, 'd30 p.i. ' + GP, 16.3, C);
t(389, 481, 'Ctrl', 15.5, C);
t(499, 481, KO, 15.7, C);
t(345, 500, '0.6', 13);
t(432.7, 500, '0.4', 13, R);
t(432.7, 573, '0.7', 13, R);
t(452.7, 500, '21', 13);
t(541.7, 500, '4.2', 13, R);
t(541.7, 573, '2.1', 13, R);
t(341, 611.7, '2B4-PE-Cy7', 14);
t(319, 556, 'Tim3-PE', 13, V);
t(605, 476, pv('= &lt; 1 x', '-4'), 12.2);
t(653, 536, pv('= &lt; 1 x', '-4'), 12.2);
t(568, 535.7, 'MFI (x100)', 13, V);
t(624, 626, 'Tim3', 13, C);
t(677, 626, '2B4', 13, C);
dot(707, 591.7, 4.2, '#fff', '#333');
dot(707, 610.3, 4, RED, REDLINE);
t(716, 591.7, 'Ctrl', 13.5);
t(716, 610, KO, 13.5);

// E
t(322, 650, 'E', 20);
t(551, 653, 'd30 p.i. SMARTA T cells', 16.2, C);
t(388, 690, 'Ctrl', 15.5, C);
t(501.7, 690, KO, 15.7, C);
t(344, 707.7, '4.0', 13);
t(430, 707.7, '28', 13, R);
t(430, 778, '19', 13, R);
t(456, 707.7, '0.8', 13);
t(541.7, 707.7, '2.6', 13, R);
t(541.7, 779, '17', 13, R);
t(341, 812, 'IFN\u03b3-eF450', 13.3);
t(319, 765, 'IL-2-PE', 13, V);
t(628.3, 684, pv('&lt; 1 x', '-4'), 12.2);
t(570.7, 745, 'IL-2 producing', 14, V);
t(587.7, 745, '(% of IFN\u03b3<sup>+</sup> SMARTA)', 13.5, V);
dot(704, 791, 4.2, '#fff', '#333');
dot(704, 809.3, 4, RED, REDLINE);
t(714.3, 791, 'Ctrl', 13.5);
t(714.3, 809, KO, 13.5);

// F
t(3, 861, 'F', 20);
t(258, 870, 'd7 p.i. SMARTA T cells', 16.3, C);
t(14, 1016.7, 'Tim3-PE', 13.8);
t(117, 1016.7, '2B4-PE-Cy7', 14);
t(60, 1038, 'Ctrl', 13.5);
t(124, 1038, KO, 13.3);
t(285, 902.3, pv('= 4.5 x', '-2'), 12.2);
t(404, 909, pv('= 5 x', '-4'), 12.2);
t(248.3, 963.3, 'MFI (x1000)', 13.5, V);
t(321, 1044, 'Tim3', 13.5, C);
t(436, 1045, '2B4', 13, C);
dot(480, 1009.3, 4.2, '#fff', '#333');
dot(480, 1027.7, 4, RED, REDLINE);
t(492, 1009, 'Ctrl', 13.5);
t(492, 1027, KO, 13.5);

// G
t(537.7, 861, 'G', 20);
t(679, 849, 'GP66 stimulated', 16.2, C);
t(681.7, 869, 'd7 p.i. SMARTA T cells', 16.3, C);
t(625, 911.7, pv('= 7.8 x', '-3'), 12.2);
t(561, 960, 'IL-2 producing', 14, V);
t(576.7, 961.7, '(% of IFN\u03b3<sup>+</sup> SMARTA)', 13.5, V);
dot(708.3, 1014, 4.2, '#fff', '#333');
dot(708.3, 1032.3, 4, RED, REDLINE);
t(717.7, 1014, 'Ctrl', 13.5);
t(717.7, 1032, KO, 13.5);
</script>
</body>
</html>
